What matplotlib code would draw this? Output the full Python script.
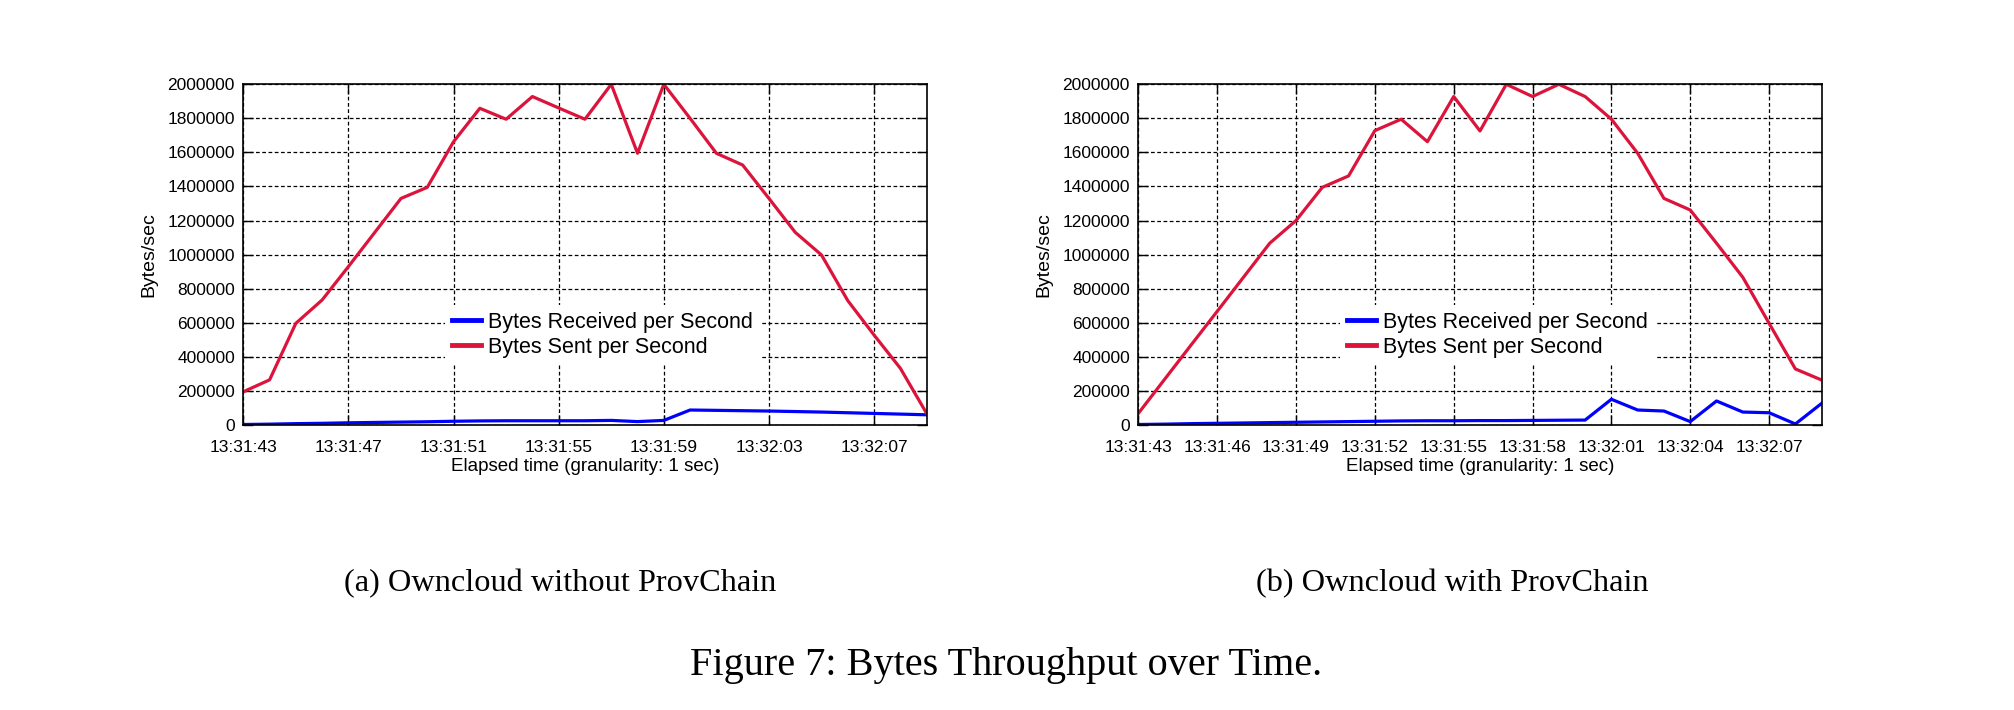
import matplotlib.pyplot as plt
import numpy as np

plt.rcParams['font.family'] = ['Liberation Sans', 'DejaVu Sans']

# seconds since 13:31:43, one sample per second
seconds = np.arange(27)

# (a) Owncloud without ProvChain
sent_a = [195000, 265000, 597000, 734000, 930000, 1130000, 1330000, 1395000,
          1663000, 1859000, 1795000, 1928000, 1861000, 1795000, 2000000, 1595000,
          2000000, 1800000, 1595000, 1526000, 1330000, 1131000, 998000, 730000,
          528000, 333000, 68000]
recv_a = [3000, 5000, 8000, 10000, 13000, 15000, 17000, 19000, 22000, 24000,
          25000, 25000, 25000, 25000, 27000, 20000, 27000, 88000, 86000, 84000,
          82000, 79000, 76000, 72000, 68000, 64000, 60000]

# (b) Owncloud with ProvChain
sent_b = [68000, 268000, 468000, 667000, 867000, 1067000, 1200000, 1395000,
          1462000, 1728000, 1795000, 1663000, 1928000, 1726000, 2000000, 1928000,
          2000000, 1928000, 1795000, 1595000, 1330000, 1262000, 1067000, 867000,
          597000, 329000, 264000]
recv_b = [3000, 5000, 8000, 10000, 12000, 14000, 16000, 18000, 20000, 22000,
          24000, 25000, 25000, 26000, 26000, 27000, 28000, 29000, 151000, 88000,
          82000, 20000, 141000, 76000, 72000, 6000, 127000]

ticks_a = [0, 4, 8, 12, 16, 20, 24]
labels_a = ["13:31:43", "13:31:47", "13:31:51", "13:31:55", "13:31:59",
            "13:32:03", "13:32:07"]
ticks_b = [0, 3, 6, 9, 12, 15, 18, 21, 24]
labels_b = ["13:31:43", "13:31:46", "13:31:49", "13:31:52", "13:31:55",
            "13:31:58", "13:32:01", "13:32:04", "13:32:07"]

RED = "#dc143c"
BLUE = "#0000ff"

fig = plt.figure(figsize=(20.14, 7.10), dpi=100)
ax_a = fig.add_axes([0.1208, 0.4014, 0.3393, 0.4799])
ax_b = fig.add_axes([0.5652, 0.4014, 0.3393, 0.4799])


def draw_panel(ax, recv, sent, ticks, labels):
    ax.plot(seconds, recv, color=BLUE, lw=2.3, label="Bytes Received per Second")
    ax.plot(seconds, sent, color=RED, lw=2.3, label="Bytes Sent per Second")
    ax.set_xlim(0, 26)
    ax.set_ylim(0, 2000000)
    ax.set_xticks(ticks)
    ax.set_xticklabels(labels)
    ax.set_yticks(np.arange(0, 2000001, 200000))
    ax.set_yticklabels([str(v) for v in range(0, 2000001, 200000)])
    ax.tick_params(direction="in", length=7, width=1, labelsize=12.5,
                   top=True, right=True)
    ax.tick_params(axis="x", pad=11)
    ax.tick_params(axis="y", pad=6)
    ax.grid(True, color="black", lw=0.9, linestyle=(0, (3, 2)))
    for s in ax.spines.values():
        s.set_linewidth(1.2)
    ax.set_xlabel("Elapsed time (granularity: 1 sec)", fontsize=13.5, labelpad=2)
    ax.set_ylabel("Bytes/sec", fontsize=14, labelpad=7)
    leg = ax.legend(loc="center left", bbox_to_anchor=(0.28, 0.265),
                    fontsize=15.5, frameon=True, fancybox=False, edgecolor="none",
                    framealpha=1, handlelength=1.35, handletextpad=0.35,
                    labelspacing=0.17, borderpad=0.3)
    for line in leg.get_lines():
        line.set_linewidth(3.5)


draw_panel(ax_a, recv_a, sent_a, ticks_a, labels_a)
draw_panel(ax_b, recv_b, sent_b, ticks_b, labels_b)

fig.text(0.278, 0.1785, "(a) Owncloud without ProvChain", ha="center", va="center",
         fontsize=23.3, family="Liberation Serif")
fig.text(0.721, 0.1785, "(b) Owncloud with ProvChain", ha="center", va="center",
         fontsize=23.3, family="Liberation Serif")
fig.text(0.4995, 0.0625, "Figure 7: Bytes Throughput over Time.", ha="center",
         va="center", fontsize=29, family="Liberation Serif")

fig.savefig("out.png", dpi=100)
